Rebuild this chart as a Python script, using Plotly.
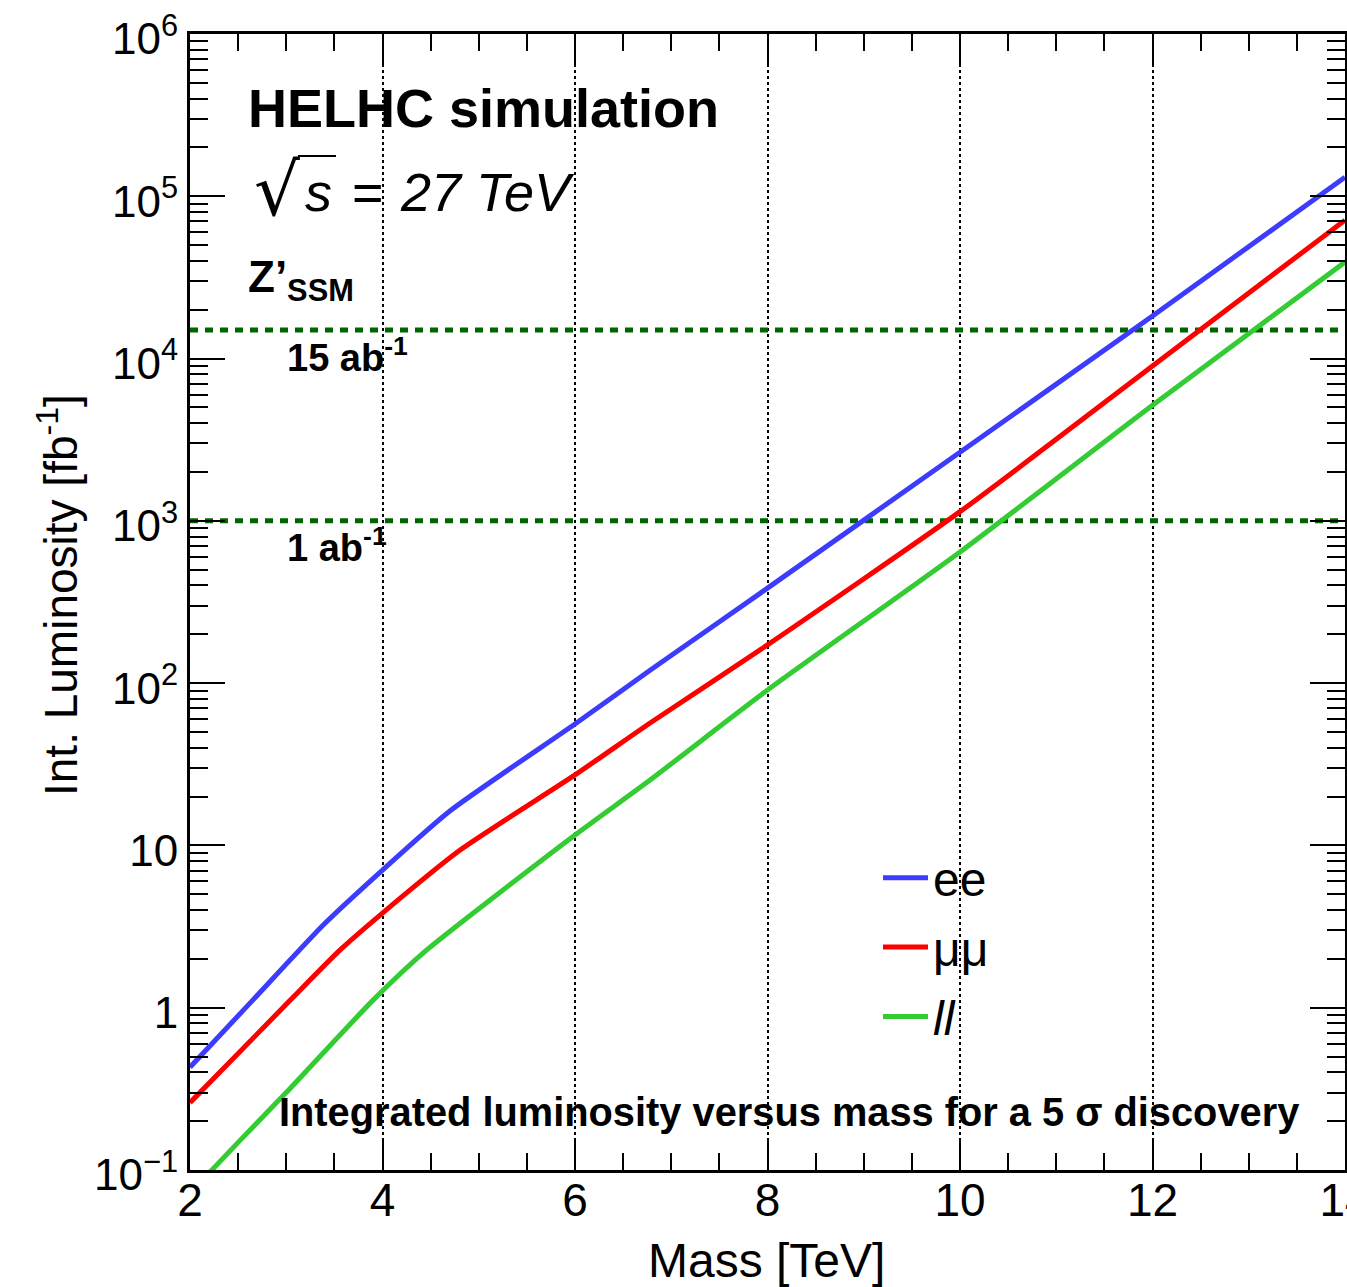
import plotly.graph_objects as go

# ---------------- data ----------------
mass_ee = [2, 2.65, 3.4, 4, 4.7, 6, 6.78, 8, 10, 12, 14]
lumi_ee = [0.43, 1.11, 3.3, 7.05, 16.3, 56, 120, 385, 2650, 18300, 131000]

mass_mumu = [2, 3.04, 3.56, 4, 4.81, 6, 6.78, 8, 10, 12, 14]
lumi_mumu = [0.26, 1.11, 2.27, 3.83, 9.4, 27.2, 56.8, 172, 1140, 9000, 71300]

mass_ll = [2, 2.5, 3, 3.9, 4.46, 6, 6.78, 8, 10, 12, 14]
lumi_ll = [0.072, 0.148, 0.30, 1.11, 2.27, 11.6, 25.3, 90.6, 643, 5160, 39300]

ref_mass = [2, 14]
ref_lumi_1ab = 1000
ref_lumi_15ab = 15000

x_ticks = [2, 4, 6, 8, 10, 12, 14]
y_tickvals = [0.1, 1, 10, 100, 1000, 10000, 100000, 1000000]
y_ticktext = ["10<sup>−1</sup>", "1", "10", "10<sup>2</sup>", "10<sup>3</sup>",
              "10<sup>4</sup>", "10<sup>5</sup>", "10<sup>6</sup>"]

# ---------------- figure ----------------
W, H = 1347, 1287
ML, MR, MT, MB = 190, 2, 34, 117
FONT = "Liberation Sans, Arial, Helvetica, sans-serif"
NARROW = "Liberation Sans Narrow, Liberation Sans, Arial, sans-serif"

fig = go.Figure()

for yv in (ref_lumi_15ab, ref_lumi_1ab):
    fig.add_trace(go.Scatter(x=ref_mass, y=[yv, yv], mode="lines",
                             line=dict(color="#006400", width=5, dash="8px,7px"),
                             showlegend=False, hoverinfo="skip"))

fig.add_trace(go.Scatter(x=mass_ee, y=lumi_ee, mode="lines", name="ee", legendgroup="g1",
                         line=dict(color="#3c3cff", width=5, shape="spline", smoothing=0.6)))
fig.add_trace(go.Scatter(x=mass_mumu, y=lumi_mumu, mode="lines", name="μμ", legendgroup="g2",
                         line=dict(color="#ff0000", width=5, shape="spline", smoothing=0.6)))
fig.add_trace(go.Scatter(x=mass_ll, y=lumi_ll, mode="lines", name="<i>ll</i>", legendgroup="g3",
                         line=dict(color="#33cc33", width=5, shape="spline", smoothing=0.6)))

minor_y = []
for e in range(-1, 6):
    for k in range(2, 10):
        minor_y.append(k * 10 ** e)

fig.update_xaxes(range=[2, 14], tickmode="array", tickvals=x_ticks,
                 ticks="inside", ticklen=32, tickwidth=2, tickcolor="black",
                 showline=True, linecolor="black", linewidth=3, mirror="allticks",
                 showgrid=True, gridcolor="black", gridwidth=2, griddash="dot",
                 zeroline=False, ticklabeloverflow="allow", ticklabelstandoff=-12,
                 tickfont=dict(family=NARROW, size=46, color="black"),
                 minor=dict(dtick=0.5, tick0=2, ticks="inside", ticklen=17,
                            tickwidth=2, tickcolor="black", showgrid=False))
fig.update_yaxes(type="log", range=[-1, 6], tickmode="array",
                 tickvals=y_tickvals, ticktext=y_ticktext,
                 ticks="inside", ticklen=35, tickwidth=2, tickcolor="black",
                 showline=True, linecolor="black", linewidth=3, mirror="allticks",
                 showgrid=False, zeroline=False, ticklabelshift=5,
                 ticklabeloverflow="allow",
                 tickfont=dict(family=FONT, size=44, color="black"),
                 minor=dict(tickmode="array", tickvals=minor_y, ticks="inside",
                            ticklen=18, tickwidth=2, tickcolor="black", showgrid=False))

def px_x(px):
    return (px - ML) / (W - ML - MR)

def px_y(py):
    return 1 - (py - MT) / (H - MT - MB)

ann = []
ann.append(dict(text="<b>HELHC simulation</b>", x=px_x(246), y=px_y(108),
                xanchor="left", yanchor="middle", font=dict(family=FONT, size=54)))
# sqrt(s) = 27 TeV, pieces placed like the reference
ann.append(dict(text="√", x=px_x(252), y=px_y(190),
                xanchor="left", yanchor="middle", font=dict(family="DejaVu Sans", size=72)))
ann.append(dict(text="<i>s</i>", x=px_x(303), y=px_y(192),
                xanchor="left", yanchor="middle", font=dict(family=FONT, size=54)))
ann.append(dict(text="=", x=px_x(350), y=px_y(192),
                xanchor="left", yanchor="middle", font=dict(family=FONT, size=54)))
ann.append(dict(text="<i>27</i>", x=px_x(398), y=px_y(192),
                xanchor="left", yanchor="middle", font=dict(family=FONT, size=54)))
ann.append(dict(text="<i>TeV</i>", x=px_x(474), y=px_y(192),
                xanchor="left", yanchor="middle", font=dict(family=FONT, size=54)))
ann.append(dict(text="<b>Z’<sub>SSM</sub></b>", x=px_x(246), y=px_y(280),
                xanchor="left", yanchor="middle", font=dict(family=FONT, size=44)))
ann.append(dict(text="<b>15 ab<sup>-1</sup></b>", x=px_x(285), y=px_y(355),
                xanchor="left", yanchor="middle", font=dict(family=FONT, size=38)))
ann.append(dict(text="<b>1 ab<sup>-1</sup></b>", x=px_x(285), y=px_y(545),
                xanchor="left", yanchor="middle", font=dict(family=FONT, size=38)))
ann.append(dict(text="<b>Integrated luminosity versus mass for a 5 σ discovery</b>",
                x=px_x(277), y=px_y(1112), xanchor="left", yanchor="middle",
                font=dict(family=FONT, size=39.8)))
ann.append(dict(text="Int. Luminosity [fb<sup>-1</sup>]", textangle=-90,
                x=px_x(58), y=px_y(595), xanchor="center", yanchor="middle",
                font=dict(family=FONT, size=46)))
ann.append(dict(text="Mass [TeV]", x=px_x(766), y=px_y(1260),
                xanchor="center", yanchor="middle",
                font=dict(family=NARROW, size=48)))
for a in ann:
    a.update(xref="paper", yref="paper", showarrow=False)
    a["font"]["color"] = "black"

fig.update_layout(
    width=W, height=H,
    margin=dict(l=ML, r=MR, t=MT, b=MB, autoexpand=False),
    paper_bgcolor="white", plot_bgcolor="white",
    annotations=ann,
    shapes=[dict(type="line", xref="paper", yref="paper",
                 x0=px_x(298), x1=px_x(336), y0=px_y(156), y1=px_y(156),
                 line=dict(color="black", width=2))],
    legend=dict(x=px_x(878), y=px_y(840), xanchor="left", yanchor="top",
                bgcolor="rgba(0,0,0,0)", font=dict(family=FONT, size=48, color="black"),
                tracegroupgap=4, itemwidth=45),
)

fig.write_html("out.html")
